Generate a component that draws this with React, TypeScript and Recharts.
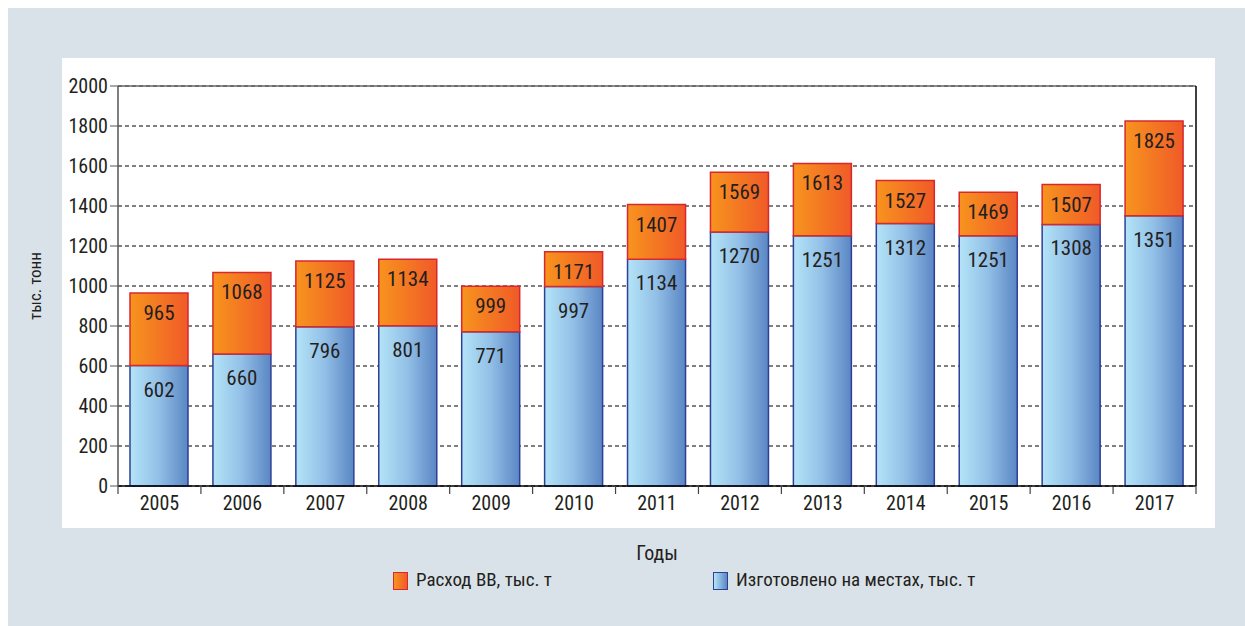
import {
  BarChart,
  Bar,
  XAxis,
  YAxis,
  CartesianGrid,
  ReferenceLine,
  LabelList,
} from "recharts";

const years = ["2005", "2006", "2007", "2008", "2009", "2010", "2011", "2012", "2013", "2014", "2015", "2016", "2017"];
const madeLocal = [602, 660, 796, 801, 771, 997, 1134, 1270, 1251, 1312, 1251, 1308, 1351];
const totalUse = [965, 1068, 1125, 1134, 999, 1171, 1407, 1569, 1613, 1527, 1469, 1507, 1825];
const yTicks = [0, 200, 400, 600, 800, 1000, 1200, 1400, 1600, 1800, 2000];

const data = years.map((year, i) => ({
  year,
  local: madeLocal[i],
  rest: totalUse[i] - madeLocal[i],
  total: totalUse[i],
}));

const FONT = "'Liberation Sans Narrow', 'Roboto Condensed', 'Arial Narrow', 'Liberation Sans', sans-serif";
const TEXT = "#231f20";

const W = 1237;
const H = 618;
const MARGIN = { top: 78, right: 48, left: 0, bottom: 66 };
const Y_W = 110;
const BAND = (W - MARGIN.left - MARGIN.right - Y_W - 1) / years.length;

function YearTick(props: any) {
  const { x, y, payload, index } = props;
  return (
    <g>
      <line x1={x + BAND / 2} x2={x + BAND / 2} y1={y - 8} y2={y} stroke="#444" strokeWidth={1.2} />
      {index === 0 && (
        <line x1={x - BAND / 2} x2={x - BAND / 2} y1={y - 8} y2={y} stroke="#444" strokeWidth={1.2} />
      )}
      <text x={x} y={y + 2} dy="0.71em" textAnchor="middle" fill={TEXT} fontSize={20} fontFamily={FONT}>
        {payload.value}
      </text>
    </g>
  );
}

function Swatch({ from, to, border }: { from: string; to: string; border: string }) {
  return (
    <span
      style={{
        display: "inline-block",
        width: 13,
        height: 16,
        background: `linear-gradient(to right, ${from}, ${to})`,
        border: `1.5px solid ${border}`,
        marginRight: 8,
        verticalAlign: "middle",
      }}
    />
  );
}

export default function App() {
  return (
    <div
      style={{
        position: "absolute",
        left: 8,
        top: 8,
        width: W,
        height: H,
        background: "#dae2e9",
        fontFamily: FONT,
        color: TEXT,
      }}
    >
      <div style={{ position: "absolute", left: 54, top: 50, width: 1153, height: 470, background: "#fff" }} />
      <div style={{ position: "absolute", left: 0, top: 0 }}>
        <BarChart width={W} height={H} data={data} margin={MARGIN} barSize={58}>
          <defs>
            <linearGradient id="gBlue" x1="0" y1="0" x2="1" y2="0">
              <stop offset="0%" stopColor="#b4e4f8" />
              <stop offset="50%" stopColor="#92bfe6" />
              <stop offset="100%" stopColor="#5a86c4" />
            </linearGradient>
            <linearGradient id="gOrange" x1="0" y1="0" x2="1" y2="0">
              <stop offset="0%" stopColor="#f7941e" />
              <stop offset="100%" stopColor="#f05a28" />
            </linearGradient>
          </defs>
          <CartesianGrid vertical={false} stroke="#000" strokeDasharray="4 3" strokeWidth={1} />
          <XAxis
            dataKey="year"
            height={74}
            tickSize={8}
            tickMargin={0}
            tickLine={false}
            tick={<YearTick />}
            axisLine={{ stroke: "#000", strokeWidth: 1.5 }}
            interval={0}
            label={{ value: "Годы", position: "insideBottom", offset: 0, fill: TEXT, fontSize: 20, fontFamily: FONT }}
          />
          <YAxis
            width={Y_W}
            domain={[0, 2000]}
            ticks={yTicks}
            interval={0}
            tickSize={8}
            tickMargin={2}
            tick={{ fill: TEXT, fontSize: 20, fontFamily: FONT }}
            axisLine={{ stroke: "#555", strokeWidth: 1.5 }}
            tickLine={{ stroke: "#555" }}
            label={{
              value: "тыс. тонн",
              angle: -90,
              position: "center",
              dx: -28,
              fill: TEXT,
              fontSize: 17,
              fontFamily: FONT,
            }}
          />
          <YAxis
            yAxisId="right"
            orientation="right"
            width={1}
            domain={[0, 2000]}
            tick={false}
            tickLine={false}
            axisLine={{ stroke: "#000", strokeWidth: 1.5 }}
          />
          <ReferenceLine y={2000} stroke="#666" strokeWidth={1.5} />
          <Bar dataKey="local" stackId="a" fill="url(#gBlue)" stroke="#2e3f96" strokeWidth={1.5} isAnimationActive={false}>
            <LabelList dataKey="local" position="insideTop" offset={16} fill={TEXT} fontSize={21} fontFamily={FONT} />
          </Bar>
          <Bar dataKey="rest" stackId="a" fill="url(#gOrange)" stroke="#d7282f" strokeWidth={1.5} isAnimationActive={false}>
            <LabelList dataKey="total" position="insideTop" offset={12} fill={TEXT} fontSize={21} fontFamily={FONT} />
          </Bar>
        </BarChart>
      </div>
      <div
        style={{
          position: "absolute",
          top: 561,
          left: 385,
          fontSize: 19,
          whiteSpace: "nowrap",
          lineHeight: "22px",
        }}
      >
        <Swatch from="#f7941e" to="#f05a28" border="#d7282f" />
        <span>Расход ВВ, тыс. т</span>
      </div>
      <div
        style={{
          position: "absolute",
          top: 561,
          left: 705,
          fontSize: 19,
          whiteSpace: "nowrap",
          lineHeight: "22px",
        }}
      >
        <Swatch from="#b4e4f8" to="#5a86c4" border="#2e3f96" />
        <span>Изготовлено на местах, тыс. т</span>
      </div>
    </div>
  );
}
